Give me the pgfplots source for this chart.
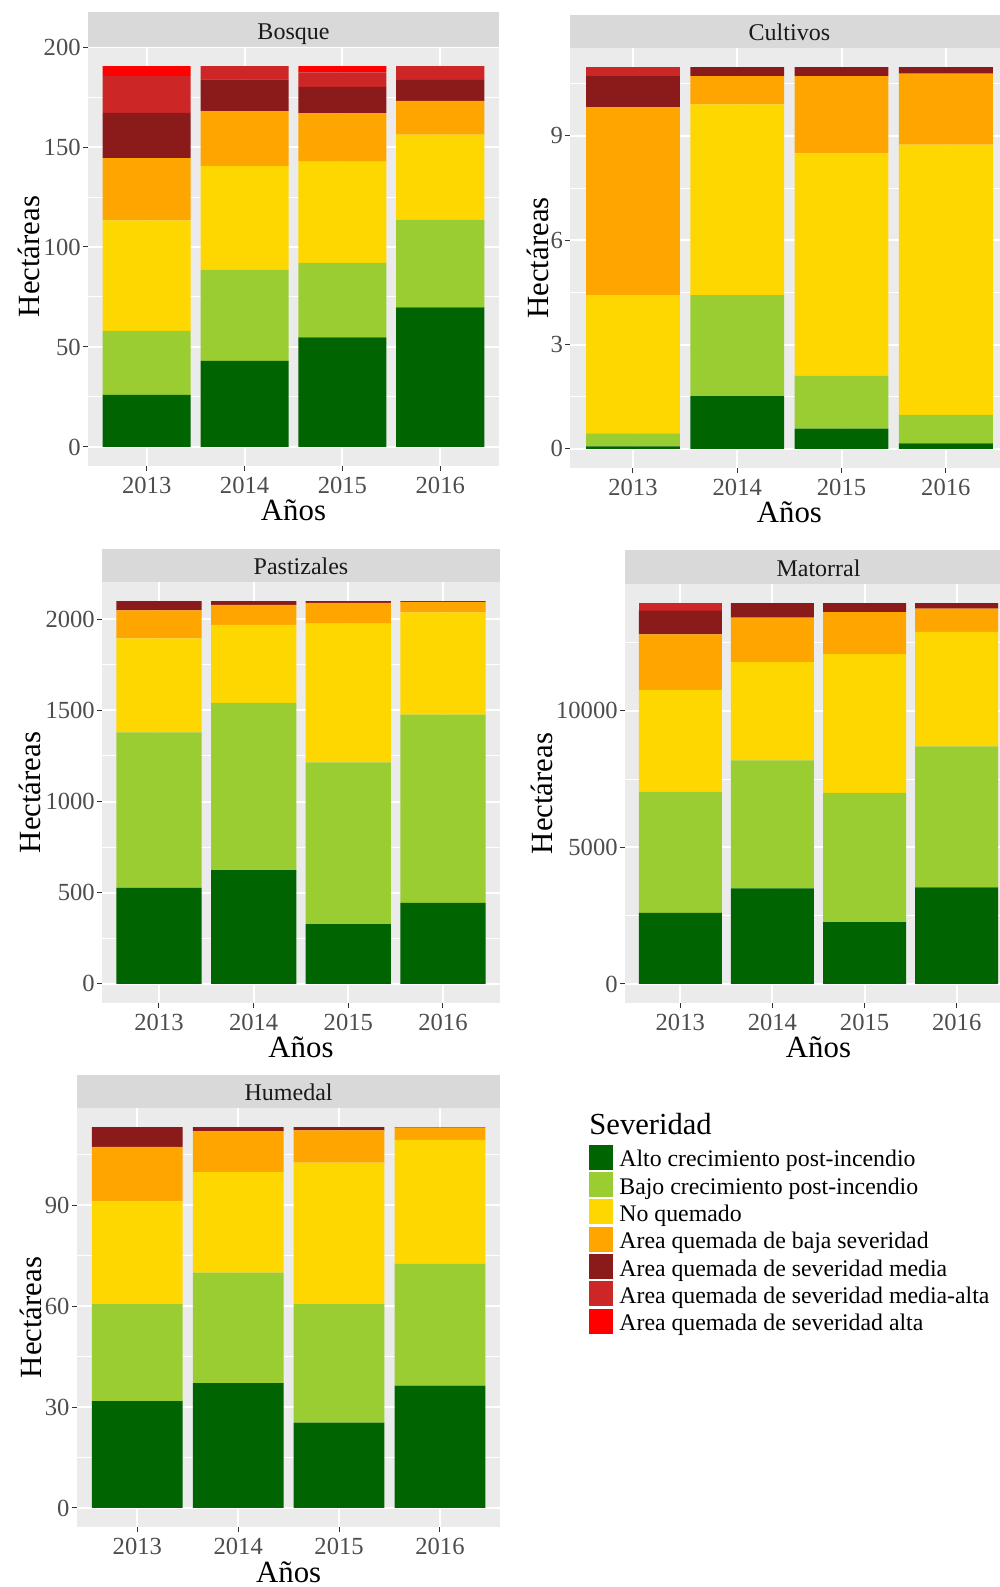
\documentclass[border=0pt]{standalone}
\usepackage{pgfplots}
\usepackage{pgfplotstable}
\pgfplotsset{compat=1.18}
\usepackage{fontspec}
\setmainfont{Liberation Serif}

% severity classes
\definecolor{altoC}{HTML}{006400}
\definecolor{bajoC}{HTML}{9ACD32}
\definecolor{noQ}{HTML}{FFD700}
\definecolor{bajaS}{HTML}{FFA500}
\definecolor{mediaS}{HTML}{8B1A1A}
\definecolor{medaltaS}{HTML}{CD2626}
\definecolor{altaS}{HTML}{FF0000}
% theme
\definecolor{panelbg}{HTML}{EBEBEB}
\definecolor{stripbg}{HTML}{D9D9D9}
\definecolor{tickgray}{HTML}{4D4D4D}
\definecolor{tickmark}{HTML}{333333}
\definecolor{striptext}{HTML}{1A1A1A}

% hectares per year (x: 1=2013 ... 4=2016)
\pgfplotstableread{
x alto bajo noq baja media medalta alta
1 26.1 32.0 55.2 31.2 22.6 18.4 5.0
2 43.1 45.5 51.9 27.4 15.9 6.7 0
3 54.8 37.3 50.6 24.1 13.3 7.2 3.2
4 69.8 43.8 42.6 16.9 10.5 6.9 0
}\bosque
\pgfplotstableread{
x alto bajo noq baja media medalta alta
1 0.07 0.38 3.97 5.40 0.90 0.26 0
2 1.52 2.90 5.49 0.81 0.26 0 0
3 0.58 1.53 6.39 2.22 0.26 0 0
4 0.16 0.82 7.77 2.04 0.19 0 0
}\cultivos
\pgfplotstableread{
x alto bajo noq baja media medalta alta
1 527 852 516 153 51 0 0
2 624 917 428 110 20 0 0
3 327 887 762 114 9 0 0
4 444 1033 560 58 4 0 0
}\pastizales
\pgfplotstableread{
x alto bajo noq baja media medalta alta
1 2604 4438 3716 2042 867 282 0
2 3496 4695 3594 1626 538 0 0
3 2262 4731 5085 1541 330 0 0
4 3533 5171 4193 844 208 0 0
}\matorral
\pgfplotstableread{
x alto bajo noq baja media medalta alta
1 31.8 28.8 30.6 16.2 5.9 0 0
2 37.1 32.9 29.9 12.1 1.3 0 0
3 25.4 35.2 42.1 9.6 1.0 0 0
4 36.4 36.3 36.8 3.6 0.2 0 0
}\humedal

\pgfplotsset{
  facet/.style={
    scale only axis,
    ybar stacked,
    bar width=0.9,
    xmin=0.4, xmax=4.6,
    xtick={1,2,3,4},
    xticklabels={2013,2014,2015,2016},
    xtick pos=bottom, ytick pos=left,
    axis background/.style={fill=panelbg},
    axis line style={draw=none},
    xmajorgrids, ymajorgrids, yminorgrids,
    major grid style={white, line width=1pt},
    minor grid style={white, line width=0.5pt},
    tick align=outside,
    major tick length=2.5pt,
    minor tick length=0pt,
    major tick style={tickmark, line width=0.5pt},
    ticklabel style={font=\fontsize{12.3}{14}\selectfont, text=tickgray},
    xticklabel style={inner ysep=3pt},
    yticklabel style={inner xsep=1pt},
    /pgf/number format/assume math mode=true,
    /pgf/number format/1000 sep={},
    scaled y ticks=false,
    xlabel={Años}, ylabel={Hectáreas},
    every axis x label/.style={at={(axis description cs:0.5,0)}, anchor=base,
      yshift=-27.5pt, font=\fontsize{15.4}{18}\selectfont},
  },
  ylabx/.style={every axis y label/.style={at={(axis description cs:#1,0.5)},
      rotate=90, anchor=base, font=\fontsize{15.4}{18}\selectfont}},
  sev/.style={fill=#1, draw=none,
    legend image code/.code={\fill[#1] (0pt,-6.25pt) rectangle (12pt,6.25pt);}},
}

% the seven stacked classes of one facet
\newcommand{\severitybars}[1]{%
  \addplot[sev=altoC]    table[x=x,y=alto]{#1};
  \addplot[sev=bajoC]    table[x=x,y=bajo]{#1};
  \addplot[sev=noQ]      table[x=x,y=noq]{#1};
  \addplot[sev=bajaS]    table[x=x,y=baja]{#1};
  \addplot[sev=mediaS]   table[x=x,y=media]{#1};
  \addplot[sev=medaltaS] table[x=x,y=medalta]{#1};
  \addplot[sev=altaS]    table[x=x,y=alta]{#1};
}

\newcommand{\facetstrip}[3]{%
  \fill[stripbg] (#1.north west) rectangle ([yshift=#2]#1.north east);
  \node[anchor=base, inner sep=0pt, font=\fontsize{12}{14}\selectfont, text=striptext]
    at ([yshift=3.9pt]#1.north) {#3};
}

\begin{document}
\begin{tikzpicture}

\begin{axis}[facet, name=b, at={(44pt,560.5pt)}, anchor=south west,
  width=205.5pt, height=209.5pt, ylabx=-0.1168,
  ymin=-9.525, ymax=200.03,
  ytick={0,50,100,150,200}, minor ytick={25,75,125,175}]
  \severitybars{\bosque}
\end{axis}
\facetstrip{b}{17.5pt}{Bosque}

\begin{axis}[facet, name=c, at={(285.2pt,559.5pt)}, anchor=south west,
  width=219pt, height=210pt, ylabx=-0.0511,
  ymin=-0.549, ymax=11.529,
  ytick={0,3,6,9}, minor ytick={1.5,4.5,7.5,10.5}]
  \severitybars{\cultivos}
\end{axis}
\facetstrip{c}{16.5pt}{Cultivos}

\begin{axis}[facet, name=p, at={(51.1pt,292pt)}, anchor=south west,
  width=198.8pt, height=210.5pt, ylabx=-0.156,
  ymin=-104.95, ymax=2203.95,
  ytick={0,500,1000,1500,2000}, minor ytick={250,750,1250,1750}]
  \severitybars{\pastizales}
\end{axis}
\facetstrip{p}{16.5pt}{Pastizales}

\begin{axis}[facet, name=m, at={(312.5pt,292pt)}, anchor=south west,
  width=193.5pt, height=209.5pt, ylabx=-0.1886,
  ymin=-697.45, ymax=14646.45,
  ytick={0,5000,10000}, minor ytick={2500,7500,12500}]
  \severitybars{\matorral}
\end{axis}
\facetstrip{m}{17pt}{Matorral}

\begin{axis}[facet, name=h, at={(38.4pt,30pt)}, anchor=south west,
  width=211.85pt, height=209.5pt, ylabx=-0.0826,
  ymin=-5.665, ymax=118.965,
  ytick={0,30,60,90}, minor ytick={15,45,75,105},
  legend cell align=left,
  legend style={at={(axis description cs:1.2089,0.9158)}, anchor=north west,
    draw=none, fill=none, inner sep=0pt, row sep=0pt, column sep=3pt,
    font=\fontsize{11.9}{14}\selectfont,
    nodes={inner sep=0pt, text height=11.65pt, text depth=2pt}}]
  \severitybars{\humedal}
  \legend{Alto crecimiento post-incendio,
          Bajo crecimiento post-incendio,
          No quemado,
          Area quemada de baja severidad,
          Area quemada de severidad media,
          Area quemada de severidad media-alta,
          Area quemada de severidad alta}
\end{axis}
\facetstrip{h}{16.5pt}{Humedal}

\node[anchor=base west, inner sep=0pt, font=\fontsize{15.3}{18}\selectfont]
  at (294.5pt,226pt) {Severidad};

\pgfresetboundingbox
\path[use as bounding box] (0pt,0pt) rectangle (500pt,793.5pt);
\end{tikzpicture}
\end{document}
